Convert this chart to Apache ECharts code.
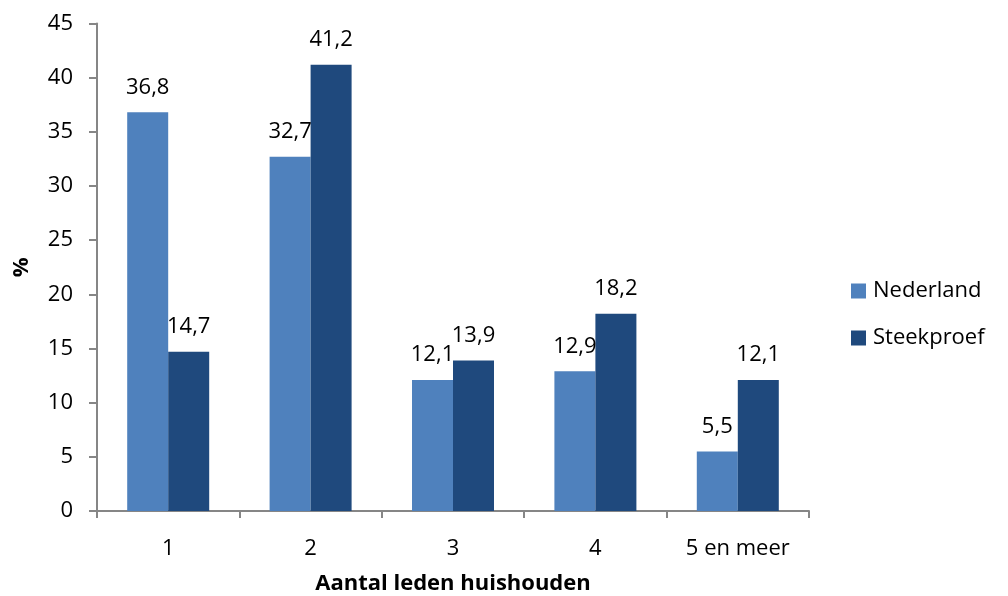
<!DOCTYPE html>
<html><head><meta charset="utf-8">
<script src="https://cdn.jsdelivr.net/npm/echarts@6/dist/echarts.min.js"></script>
<style>html,body{margin:0;padding:0;background:#fff}#c{width:1008px;height:596px}</style>
</head><body><div id="c"></div>
<script>
const categories = ['1', '2', '3', '4', '5 en meer'];
const nederland = [36.8, 32.7, 12.1, 12.9, 5.5];
const steekproef = [14.7, 41.2, 13.9, 18.2, 12.1];
const seriesNames = ['Nederland', 'Steekproef'];
const colors = ['#4F81BD', '#1F497D'];
const font = '"Open Sans", "Noto Sans", sans-serif';
const fs = 22;
const fmt = p => String(p.value).replace('.', ',');
const chart = echarts.init(document.getElementById('c'));
const labelCfg = {show: true, position: 'top', distance: 14, formatter: fmt, color: '#000', fontSize: fs, fontFamily: font};
chart.setOption({
  animation: false,
  textStyle: {fontFamily: font},
  grid: {left: 97, right: 199, top: 23.5, bottom: 85, containLabel: false, outerBoundsMode: 'none'},
  legend: {
    orient: 'vertical', left: 851, top: 280, padding: 0, itemWidth: 15, itemHeight: 15, itemGap: 25,
    icon: 'rect', textStyle: {fontSize: fs, color: '#000', fontFamily: font, padding: [0, 0, 0, 2]},
    data: seriesNames
  },
  xAxis: {
    type: 'category', data: categories,
    name: 'Aantal leden huishouden', nameLocation: 'middle', nameGap: 62,
    nameTextStyle: {fontSize: fs, fontWeight: 'bold', color: '#000', fontFamily: font},
    axisLine: {lineStyle: {color: '#868686', width: 2}},
    axisTick: {show: true, length: 7, lineStyle: {color: '#868686', width: 2}},
    axisLabel: {fontSize: fs, color: '#000', margin: 27, fontFamily: font}
  },
  yAxis: {
    type: 'value', min: 0, max: 45, interval: 5,
    name: '%', nameLocation: 'middle', nameGap: 64, nameRotate: 90,
    nameTextStyle: {fontSize: fs, fontWeight: 'bold', color: '#000', fontFamily: font},
    axisLine: {show: true, lineStyle: {color: '#868686', width: 2}},
    axisTick: {show: true, length: 8, lineStyle: {color: '#868686', width: 2}},
    axisLabel: {fontSize: fs, color: '#000', margin: 24, fontFamily: font},
    splitLine: {show: false}
  },
  series: [
    {name: seriesNames[0], type: 'bar', data: nederland, barWidth: 41, barGap: '0%', barCategoryGap: '43%',
     itemStyle: {color: colors[0]}, label: labelCfg},
    {name: seriesNames[1], type: 'bar', data: steekproef, barWidth: 41,
     itemStyle: {color: colors[1]}, label: labelCfg}
  ]
});
</script></body></html>
